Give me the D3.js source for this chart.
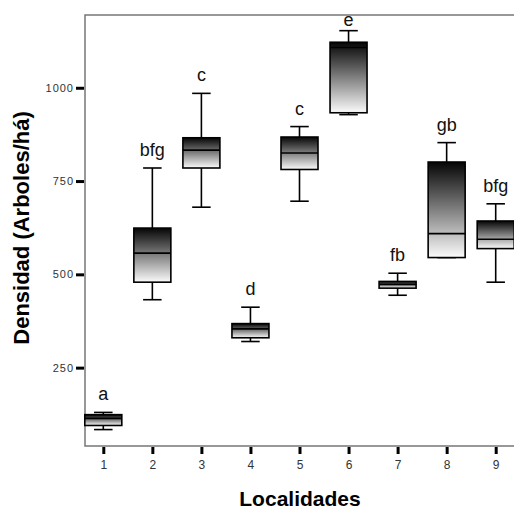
<!DOCTYPE html>
<html>
<head>
<meta charset="utf-8">
<script src="https://cdn.jsdelivr.net/npm/d3@7"></script>
<style>
  body { margin: 0; background: #fff; }
  text { font-family: Arial, "Liberation Sans", sans-serif; }
</style>
</head>
<body>
<div class="chart"></div>
<script>
// box plot values (Arboles/ha)
var localidades = [`1`, `2`, `3`, `4`, `5`, `6`, `7`, `8`, `9`];
var maxVals = [130, 785, 985, 412, 896, 1153, 503, 853, 689];
var q3Vals = [124, 624, 866, 368, 868, 1122, 481, 801, 643];
var medianVals = [114, 557, 833, 354, 825, 1108, 473, 609, 594];
var q1Vals = [95, 479, 785, 330, 781, 933, 463, 545, 569];
var minVals = [84, 432, 680, 320, 696, 928, 444, 545, 479];
var letras = [`a`, `bfg`, `c`, `d`, `c`, `e`, `fb`, `gb`, `bfg`];
var yTicks = [250, 500, 750, 1000];

var fullWidth = 514, fullHeight = 509;
var margin = {top: 15, left: 85, bottom: 63};
var plotBottom = fullHeight - margin.bottom;

var data = localidades.map((loc, i) => ({
    loc: loc,
    max: maxVals[i],
    q3: q3Vals[i],
    med: medianVals[i],
    q1: q1Vals[i],
    min: minVals[i],
    letra: letras[i]
}));

var svg = d3.select(`.chart`)
    .append(`svg`)
    .attr(`width`, fullWidth)
    .attr(`height`, fullHeight);

var grad = svg.append(`defs`).append(`linearGradient`)
    .attr(`id`, `boxFill`)
    .attr(`x1`, 0).attr(`y1`, 0)
    .attr(`x2`, 0).attr(`y2`, 1);
grad.append(`stop`).attr(`offset`, `0%`).attr(`stop-color`, `#050505`);
grad.append(`stop`).attr(`offset`, `100%`).attr(`stop-color`, `#fbfbfb`);

var yScale = d3.scaleLinear()
    .domain([40, 1195])
    .range([plotBottom, margin.top]);

var xScale = d3.scalePoint()
    .domain(localidades)
    .range([103.3, 495.7]);

var boxW = 37;

// frame
svg.append(`path`)
    .attr(`d`, `M${fullWidth},${margin.top}H${margin.left}V${plotBottom}H${fullWidth}`)
    .attr(`fill`, `none`)
    .attr(`stroke`, `#777`)
    .attr(`stroke-width`, 1.5);

// y axis
var yAxis = d3.axisLeft(yScale)
    .tickValues(yTicks)
    .tickFormat(d3.format(`d`))
    .tickSize(8)
    .tickPadding(2);

var yg = svg.append(`g`)
    .attr(`transform`, `translate(${margin.left - 1},0)`)
    .call(yAxis);
yg.select(`.domain`).remove();
yg.selectAll(`line`).attr(`stroke`, `#000`).attr(`stroke-width`, 3);
yg.selectAll(`text`)
    .attr(`fill`, `#333`)
    .style(`font-size`, `11px`)
    .style(`letter-spacing`, `1px`);

// x axis
var xAxis = d3.axisBottom(xScale)
    .tickSize(7)
    .tickPadding(6);

var xg = svg.append(`g`)
    .attr(`transform`, `translate(0,${plotBottom + 1})`)
    .call(xAxis);
xg.select(`.domain`).remove();
xg.selectAll(`line`).attr(`stroke`, `#000`).attr(`stroke-width`, 3);
xg.selectAll(`text`)
    .attr(`fill`, `#333`)
    .style(`font-size`, `12px`);

// boxes
var boxes = svg.append(`g`).selectAll(`g`)
    .data(data)
    .enter()
    .append(`g`)
    .attr(`transform`, d => `translate(${xScale(d.loc)},0)`);

boxes.append(`line`)
    .attr(`x1`, 0).attr(`x2`, 0)
    .attr(`y1`, d => yScale(d.max))
    .attr(`y2`, d => yScale(d.min))
    .attr(`stroke`, `#000`)
    .attr(`stroke-width`, 1.6);

boxes.selectAll(`.cap`)
    .data(d => [d.max, d.min])
    .enter()
    .append(`line`)
    .attr(`class`, `cap`)
    .attr(`x1`, -boxW / 4).attr(`x2`, boxW / 4)
    .attr(`y1`, v => yScale(v))
    .attr(`y2`, v => yScale(v))
    .attr(`stroke`, `#000`)
    .attr(`stroke-width`, 1.6);

boxes.append(`rect`)
    .attr(`x`, -boxW / 2)
    .attr(`width`, boxW)
    .attr(`y`, d => yScale(d.q3))
    .attr(`height`, d => yScale(d.q1) - yScale(d.q3))
    .attr(`fill`, `url(#boxFill)`)
    .attr(`stroke`, `#000`)
    .attr(`stroke-width`, 1.6);

boxes.append(`line`)
    .attr(`x1`, -boxW / 2).attr(`x2`, boxW / 2)
    .attr(`y1`, d => yScale(d.med))
    .attr(`y2`, d => yScale(d.med))
    .attr(`stroke`, `#000`)
    .attr(`stroke-width`, 1.6);

// group letters above the upper whisker
boxes.append(`text`)
    .attr(`x`, 0)
    .attr(`y`, d => Math.max(yScale(d.max) - 12, margin.top + 11))
    .attr(`text-anchor`, `middle`)
    .style(`font-size`, `18px`)
    .attr(`fill`, `#111`)
    .text(d => d.letra);

// axis titles
svg.append(`text`)
    .attr(`x`, 300)
    .attr(`y`, 506)
    .attr(`text-anchor`, `middle`)
    .style(`font-size`, `21px`)
    .style(`font-weight`, `bold`)
    .text(`Localidades`);

svg.append(`text`)
    .attr(`transform`, `translate(29,228) rotate(-90)`)
    .attr(`text-anchor`, `middle`)
    .style(`font-size`, `22px`)
    .style(`font-weight`, `bold`)
    .text(`Densidad (Arboles/há)`);
</script>
</body>
</html>
